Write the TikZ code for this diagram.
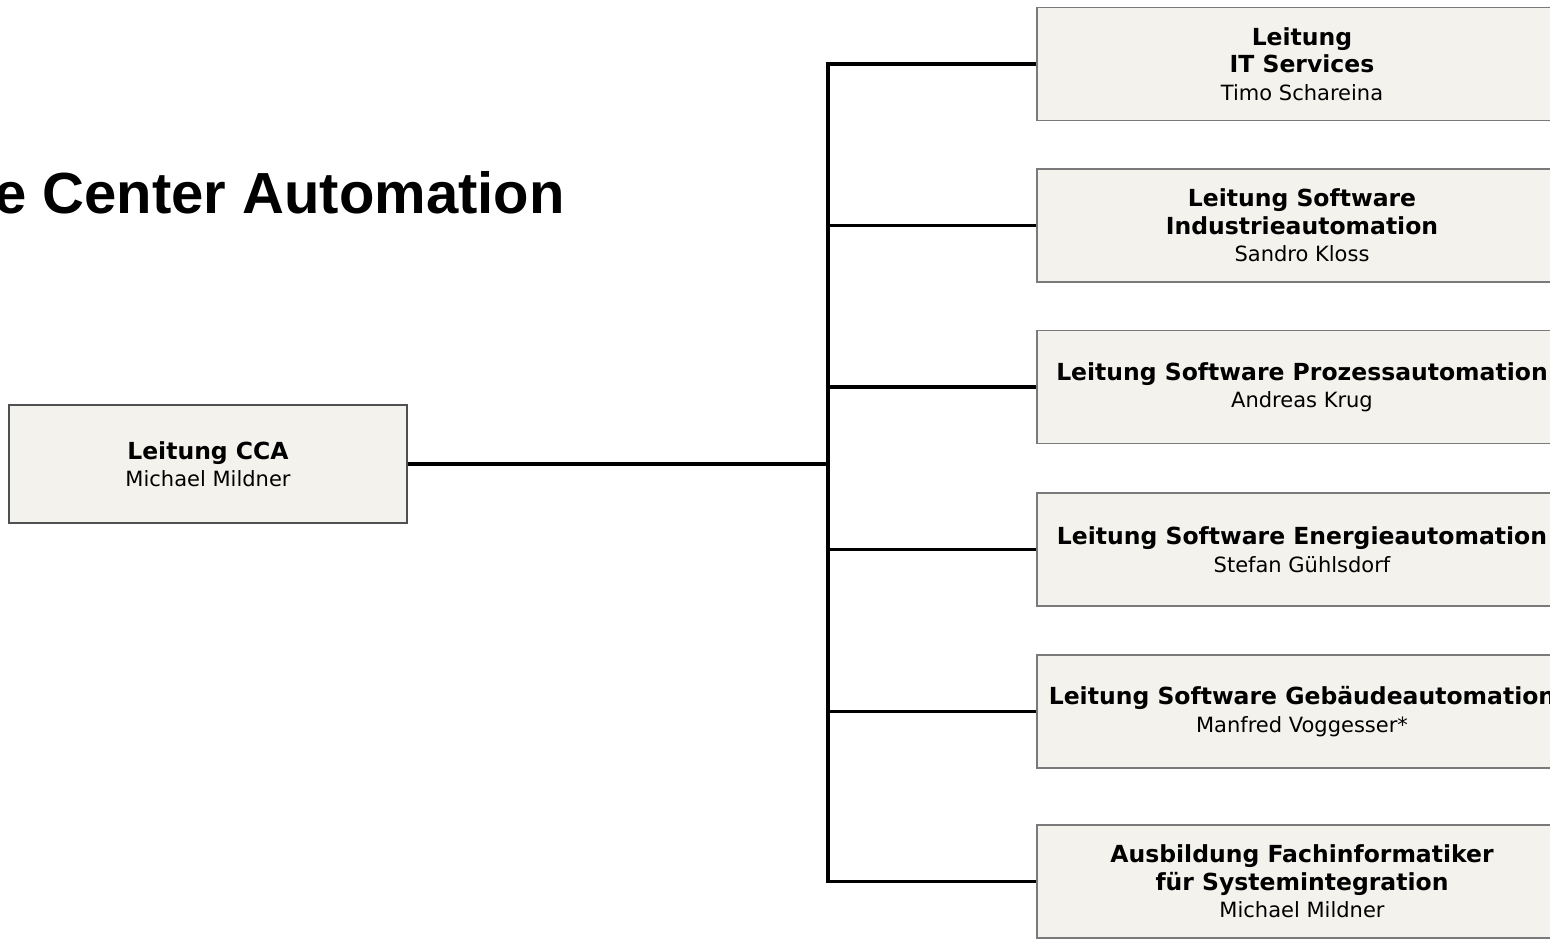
\documentclass[tikz,border=0pt]{standalone}
\usepackage{fontspec}
\setmainfont{DejaVu Sans}
\newfontfamily\titlefont{Liberation Sans}
\definecolor{boxfill}{HTML}{F3F2EC}
\definecolor{boxline}{HTML}{7A7A7A}
\definecolor{ccaline}{HTML}{505050}
\newcommand\headtxt[1]{{\fontsize{23.5}{27.5}\selectfont\bfseries #1}}
\tikzset{
  unitbox/.style={draw=boxline, line width=1.5pt, fill=boxfill, inner sep=0pt,
    minimum width=530pt, minimum height=113pt, align=center,
    font=\fontsize{21}{27.5}\selectfont},
  ccabox/.style={unitbox, draw=ccaline, minimum width=398pt, minimum height=118pt},
  conn/.style={draw=black, line width=3.6pt},
  title/.style={font=\titlefont\bfseries\fontsize{58}{64}\selectfont, anchor=base east, inner sep=0pt}
}
\begin{document}
\begin{tikzpicture}[x=1pt,y=-1pt]
\useasboundingbox (0,0) rectangle (1550,940);
\clip (0,0) rectangle (1550,940);
\node[title] (title) at (565,213) {e Center Automation};
\node[ccabox] (cca) at (208,464) {\headtxt{Leitung CCA}\\Michael Mildner};
\node[unitbox] (b1) at (1302,64) {\headtxt{Leitung}\\\headtxt{IT Services}\\Timo Schareina};
\node[unitbox] (b2) at (1302,225.5) {\headtxt{Leitung Software}\\\headtxt{Industrieautomation}\\Sandro Kloss};
\node[unitbox] (b3) at (1302,387) {\headtxt{Leitung Software Prozessautomation}\\Andreas Krug};
\node[unitbox] (b4) at (1302,549.5) {\headtxt{Leitung Software Energieautomation}\\Stefan Gühlsdorf};
\node[unitbox] (b5) at (1302,711.5) {\headtxt{Leitung Software Gebäudeautomation}\\Manfred Voggesser*};
\node[unitbox] (b6) at (1302,881.5) {\headtxt{Ausbildung Fachinformatiker}\\\headtxt{für Systemintegration}\\Michael Mildner};
\coordinate (bus) at (828,464);
\draw[conn] (cca.east) -- (bus);
\draw[conn] (b1.west) -- (b1.west -| bus) -- (b6.west -| bus) -- (b6.west);
\draw[conn] (b2.west) -- (b2.west -| bus);
\draw[conn] (b3.west) -- (b3.west -| bus);
\draw[conn] (b4.west) -- (b4.west -| bus);
\draw[conn] (b5.west) -- (b5.west -| bus);
\end{tikzpicture}
\end{document}
